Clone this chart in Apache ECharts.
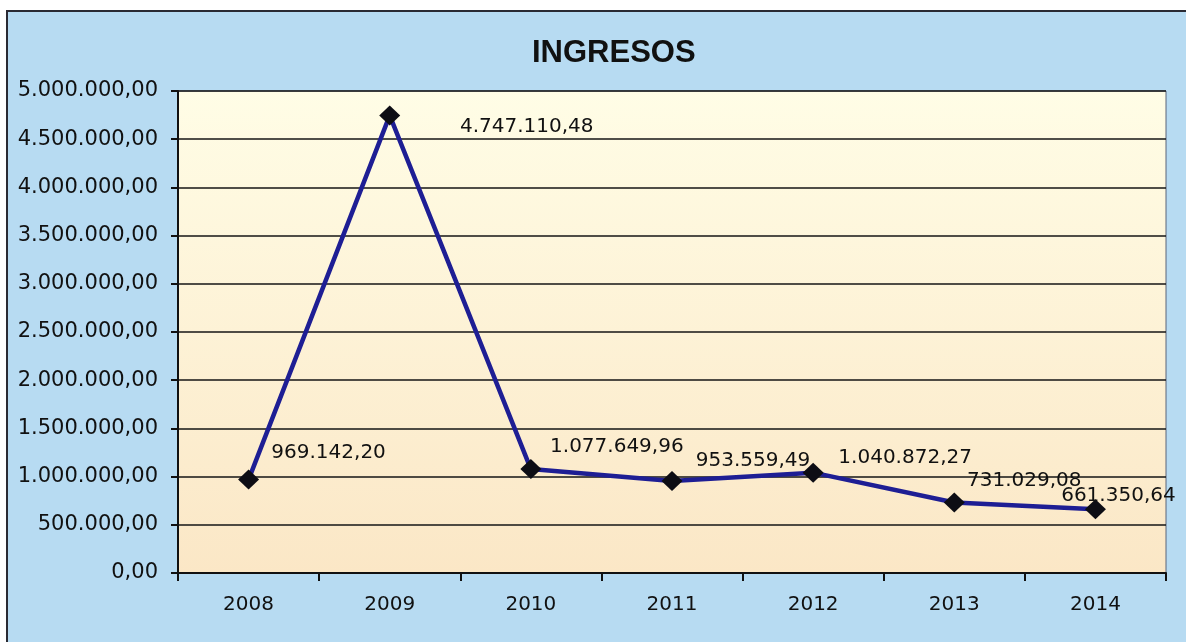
<!DOCTYPE html>
<html>
<head>
<meta charset="utf-8">
<title>INGRESOS</title>
<script src="https://cdn.jsdelivr.net/npm/echarts@6/dist/echarts.min.js"></script>
<style>
* {
  margin: 0;
  padding: 0;
}
body {
  background: #ffffff;
  width: 1186px;
  height: 642px;
  overflow: hidden;
  position: relative;
}
/* fondo azul del grafico escaneado */
#marco {
  position: absolute;
  left: 6px;
  top: 10px;
  width: 1200px;
  height: 660px;
  border: 2px solid #2a2a33;
  background: #b7dbf2;
}
#main {
  position: absolute;
  left: 0;
  top: 0;
  width: 1186px;
  height: 642px;
}
</style>
</head>
<body>
<div id="marco"></div>
<div id="main"></div>
<script>
// datos
var years = ["2008", "2009", "2010", "2011", "2012", "2013", "2014"];
var ingresos = [969142.20, 4747110.48, 1077649.96, 953559.49, 1040872.27, 731029.08, 661350.64];

// desplazamiento de cada etiqueta respecto al punto (como en el original)
var labelOffsets = [[80, -27], [137, 11], [86, -22], [81, -20], [92, -15], [70, -22], [23, -13]];

// 1234567.8 -> "1.234.567,80"
function formatoEs(v) {
  var partes = Number(v).toFixed(2).split(".");
  var entero = partes[0].replace(/\B(?=(\d{3})+(?!\d))/g, ".");
  return entero + "," + partes[1];
}

var fuente = "DejaVu Sans, Verdana, sans-serif";

var chart = echarts.init(document.getElementById("main"));
chart.setOption({
  animation: false,
  title: {
    text: "INGRESOS",
    left: 532,
    top: 38,
    padding: 0,
    textStyle: {
      fontFamily: "Liberation Sans, Arial, sans-serif",
      fontSize: 31,
      fontWeight: "bold",
      color: "#111111"
    }
  },
  grid: {
    left: 178,
    right: 20,
    top: 91,
    bottom: 69,
    show: true,
    borderColor: "#5a6478",
    borderWidth: 1,
    backgroundColor: {
      type: "linear",
      x: 0,
      y: 0,
      x2: 0,
      y2: 1,
      colorStops: [
        { offset: 0, color: "#fffde6" },
        { offset: 1, color: "#fbe7c6" }
      ]
    }
  },
  xAxis: {
    type: "category",
    data: years,
    boundaryGap: true,
    axisLine: { lineStyle: { color: "#111111", width: 2 } },
    axisTick: { show: true, inside: false, length: 8, lineStyle: { color: "#111111", width: 2 } },
    axisLabel: {
      margin: 22,
      fontFamily: fuente,
      fontSize: 20,
      color: "#111111"
    },
    splitLine: { show: false }
  },
  yAxis: {
    type: "value",
    min: 0,
    max: 5000000,
    interval: 500000,
    axisLine: { show: true, lineStyle: { color: "#111111", width: 2 } },
    axisTick: { show: true, inside: false, length: 7, lineStyle: { color: "#111111", width: 2 } },
    axisLabel: {
      margin: 20,
      fontFamily: fuente,
      fontSize: 21,
      color: "#111111",
      formatter: formatoEs
    },
    splitLine: { show: true, lineStyle: { color: "#141414", width: 1.5 } }
  },
  series: [
    {
      name: "INGRESOS",
      type: "line",
      data: ingresos.map(function (v, i) {
        return {
          value: v,
          label: { offset: labelOffsets[i] }
        };
      }),
      symbol: "diamond",
      symbolSize: [21, 20],
      showAllSymbol: true,
      lineStyle: { color: "#1e1e94", width: 4.5 },
      itemStyle: { color: "#0d0d14" },
      label: {
        show: true,
        position: "inside",
        fontFamily: fuente,
        fontSize: 20,
        color: "#111111",
        formatter: function (p) {
          return formatoEs(p.value);
        }
      },
      z: 3
    }
  ]
});
</script>
</body>
</html>
